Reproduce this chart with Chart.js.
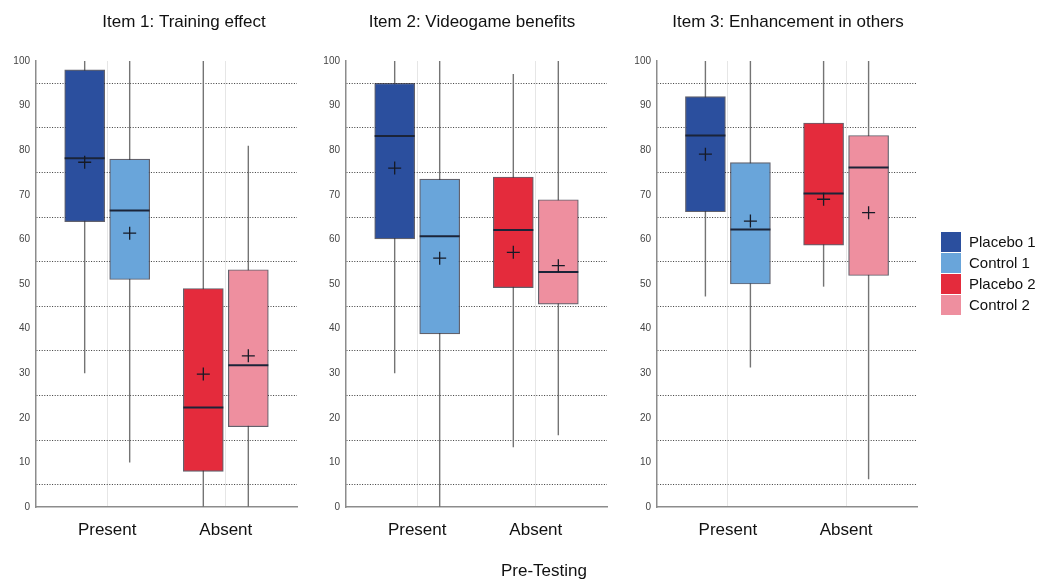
<!DOCTYPE html>
<html>
<head>
<meta charset="utf-8">
<script src="https://cdn.jsdelivr.net/npm/chart.js@4.4.1/dist/chart.umd.min.js"></script>
<style>
  html, body { margin: 0; padding: 0; background: #fff; }
  #wrap { position: relative; width: 1043px; height: 582px; overflow: hidden;
          font-family: 'Liberation Sans', Arial, sans-serif; }
  #wrap canvas { position: absolute; top: 0; }
  #legend { position: absolute; left: 941px; top: 231px; }
  .item { height: 21px; display: flex; align-items: center; font-size: 15px; color: #111; }
  .swatch { width: 20px; height: 20px; margin-right: 8px; }
  #xtitle { position: absolute; left: 0; width: 1088px; top: 561px; text-align: center;
            font-size: 17px; color: #111; }
</style>
</head>
<body>
<div id="wrap">
  <canvas id="item1" width="368" height="582" style="left:0px"></canvas>
  <canvas id="item2" width="324" height="582" style="left:310px"></canvas>
  <canvas id="item3" width="336" height="582" style="left:620px"></canvas>
  <div id="legend"></div>
  <div id="xtitle">Pre-Testing</div>
</div>
<script>
// categories and groups
const categories = ["Present", "Absent"];
const groups = ["Placebo 1", "Control 1", "Placebo 2", "Control 2"];
const groupCategory = [0, 0, 1, 1];
const groupColors = ["#2b4f9e", "#69a5da", "#e42b3c", "#ee8f9f"];

// Item 1: Training effect
const item1Min    = [30, 10, 0, 0];
const item1Q1     = [64, 51, 8, 18];
const item1Median = [78.2, 66.5, 22.3, 31.8];
const item1Q3     = [98, 78, 49, 53.2];
const item1Max    = [100, 100, 100, 81];
const item1Mean   = [77.3, 61.4, 29.8, 33.9];

// Item 2: Videogame benefits
const item2Min    = [30, 0, 13.4, 16.1];
const item2Q1     = [60.1, 38.8, 49.2, 45.5];
const item2Median = [83.2, 60.7, 62.1, 52.7];
const item2Q3     = [95, 73.5, 74, 68.9];
const item2Max    = [100, 100, 97.1, 100];
const item2Mean   = [76, 55.8, 57.1, 54.1];

// Item 3: Enhancement in others
const item3Min    = [47.2, 31.3, 49.4, 6.2];
const item3Q1     = [66.2, 50, 58.7, 51.9];
const item3Median = [83.3, 62.2, 70.3, 76.1];
const item3Q3     = [92, 77.2, 86.1, 83.3];
const item3Max    = [100, 100, 100, 100];
const item3Mean   = [79.1, 64.1, 69, 66];

const FONT = "'Liberation Sans', Arial, sans-serif";

function eachBox(chart, fn) {
  chart.data.datasets.forEach((ds, i) => {
    const meta = chart.getDatasetMeta(i);
    ds.data.forEach((d, j) => {
      if (d.y !== null) fn(meta.data[j], ds.stats);
    });
  });
}

// whiskers behind the boxes, medians and mean crosses on top
const boxExtras = {
  id: "boxExtras",
  beforeDatasetsDraw(chart) {
    const y = chart.scales.y, ctx = chart.ctx;
    ctx.save();
    ctx.strokeStyle = "#747474";
    ctx.lineWidth = 1.4;
    eachBox(chart, (el, s) => {
      ctx.beginPath();
      ctx.moveTo(el.x, y.getPixelForValue(s.min));
      ctx.lineTo(el.x, y.getPixelForValue(s.max));
      ctx.stroke();
    });
    ctx.restore();
  },
  afterDatasetsDraw(chart) {
    const y = chart.scales.y, ctx = chart.ctx;
    ctx.save();
    eachBox(chart, (el, s) => {
      const half = el.width / 2;
      const my = y.getPixelForValue(s.median);
      ctx.strokeStyle = "#1b2438";
      ctx.lineWidth = 2;
      ctx.beginPath();
      ctx.moveTo(el.x - half, my);
      ctx.lineTo(el.x + half, my);
      ctx.stroke();
      const cy = y.getPixelForValue(s.mean);
      ctx.strokeStyle = "#161a26";
      ctx.lineWidth = 1.3;
      ctx.beginPath();
      ctx.moveTo(el.x - 6.5, cy);
      ctx.lineTo(el.x + 6.5, cy);
      ctx.moveTo(el.x, cy - 6.5);
      ctx.lineTo(el.x, cy + 6.5);
      ctx.stroke();
    });
    ctx.restore();
  }
};

function buildPanel(id, title, mins, q1s, medians, q3s, maxs, means, leftWidth, rightWidth) {
  const datasets = groups.map((g, gi) => ({
    label: g,
    data: categories.map((c, ci) => ({
      x: ci,
      y: groupCategory[gi] === ci ? [q1s[gi], q3s[gi]] : null
    })),
    stats: { min: mins[gi], median: medians[gi], max: maxs[gi], mean: means[gi] },
    backgroundColor: groupColors[gi],
    borderColor: "rgba(45,45,60,0.75)",
    borderWidth: 1.2,
    borderSkipped: false
  }));

  new Chart(document.getElementById(id), {
    type: "bar",
    data: { datasets },
    plugins: [boxExtras],
    options: {
      responsive: false,
      animation: false,
      skipNull: true,
      barThickness: 45,
      maxBarThickness: 40,
      layout: { padding: { top: 0, bottom: 35, left: 0, right: 0 } },
      plugins: {
        legend: { display: false },
        tooltip: { enabled: false },
        title: {
          display: true,
          text: title,
          color: "#111",
          font: { family: FONT, size: 17, weight: "normal" },
          padding: { top: 12, bottom: 28.6 }
        }
      },
      scales: {
        x: {
          type: "linear",
          min: -0.6,
          max: 1.6,
          offset: false,
          afterBuildTicks: s => { s.ticks = categories.map((c, i) => ({ value: i })); },
          afterFit: s => { s.height = 40; },
          ticks: {
            callback: v => categories[v],
            color: "#111",
            padding: 13,
            font: { family: FONT, size: 17 }
          },
          grid: { color: "#e6e6e6", lineWidth: 1, drawTicks: false, offset: false },
          border: { display: true, color: "#8c8c8c", width: 1.5 }
        },
        y: {
          type: "linear",
          min: 0,
          max: 100,
          afterFit: s => { s.width = leftWidth; },
          ticks: {
            stepSize: 5,
            autoSkip: false,
            callback: v => (v % 10 === 0 ? v : ""),
            color: "#444",
            padding: 6,
            font: { family: FONT, size: 10 }
          },
          grid: {
            drawTicks: false,
            lineWidth: 1,
            color: ctx => (ctx.tick && ctx.tick.value % 10 === 5 ? "#3a3a3a" : "rgba(0,0,0,0)")
          },
          border: { display: true, color: "#8c8c8c", width: 1.5, dash: [1, 1.6] }
        },
        yPad: {
          type: "linear",
          position: "right",
          display: true,
          afterFit: s => { s.width = rightWidth; },
          grid: { display: false },
          border: { display: false },
          ticks: { display: false }
        }
      }
    }
  });
}

buildPanel("item1", "Item 1: Training effect",
  item1Min, item1Q1, item1Median, item1Q3, item1Max, item1Mean, 36, 71);
buildPanel("item2", "Item 2: Videogame benefits",
  item2Min, item2Q1, item2Median, item2Q3, item2Max, item2Mean, 36, 27);
buildPanel("item3", "Item 3: Enhancement in others",
  item3Min, item3Q1, item3Median, item3Q3, item3Max, item3Mean, 37, 39);

// legend
const legend = document.getElementById("legend");
groups.forEach((g, gi) => {
  const row = document.createElement("div");
  row.className = "item";
  const sw = document.createElement("span");
  sw.className = "swatch";
  sw.style.background = groupColors[gi];
  row.appendChild(sw);
  row.appendChild(document.createTextNode(g));
  legend.appendChild(row);
});
</script>
</body>
</html>
